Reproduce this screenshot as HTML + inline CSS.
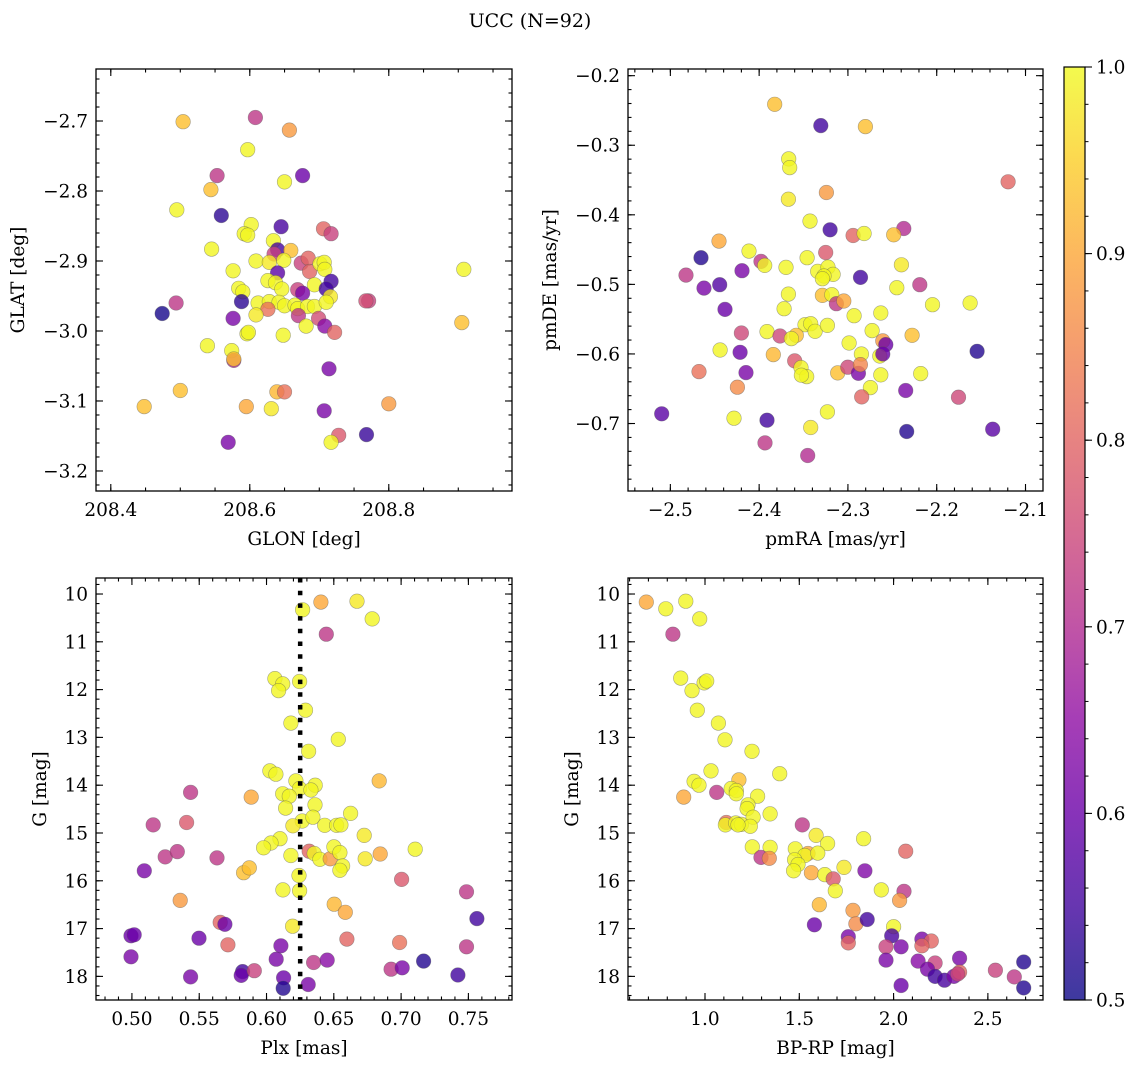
<!DOCTYPE html>
<html><head><meta charset="utf-8">
<style>
html,body{margin:0;padding:0;background:#fff;}
svg{display:block;font-family:"DejaVu Serif","Liberation Serif",serif;}
</style></head>
<body>
<svg id="fig" width="1136" height="1067" viewBox="0 0 1136 1067" xmlns="http://www.w3.org/2000/svg">
<text x="530" y="27" text-anchor="middle" font-size="19">UCC (N=92)</text>
</svg>
<script>
// ---------- Panel 1: GLON / GLAT ----------
const glonVals=[208.504,208.608,208.657,208.597,208.553,208.676,208.650,208.544,208.495,208.559,208.645,208.602,208.592,208.597,208.706,208.717,208.545,208.634,208.640,208.635,208.659,208.609,208.628,208.649,208.674,208.684,208.686,208.701,208.707,208.708,208.576,208.640,208.626,208.637,208.646,208.693,208.717,208.710,208.584,208.590,208.669,208.676,208.716,208.588,208.494,208.474,208.612,208.628,208.642,208.650,208.665,208.669,208.683,208.693,208.710,208.626,208.771,208.767,208.908,208.609,208.576,208.670,208.699,208.708,208.722,208.681,208.596,208.598,208.648,208.539,208.574,208.577,208.577,208.714,208.500,208.639,208.650,208.448,208.595,208.631,208.707,208.800,208.905,208.728,208.717,208.768,208.569];
const glatVals=[-2.701,-2.695,-2.713,-2.741,-2.778,-2.778,-2.787,-2.798,-2.827,-2.835,-2.851,-2.848,-2.861,-2.863,-2.854,-2.861,-2.883,-2.871,-2.884,-2.890,-2.885,-2.900,-2.902,-2.899,-2.903,-2.896,-2.915,-2.904,-2.902,-2.912,-2.914,-2.917,-2.928,-2.931,-2.940,-2.934,-2.929,-2.940,-2.939,-2.944,-2.941,-2.946,-2.951,-2.958,-2.960,-2.975,-2.960,-2.958,-2.959,-2.964,-2.963,-2.968,-2.965,-2.965,-2.959,-2.969,-2.957,-2.957,-2.912,-2.977,-2.982,-2.978,-2.982,-2.993,-3.002,-2.993,-3.004,-3.002,-3.006,-3.021,-3.028,-3.042,-3.040,-3.054,-3.085,-3.087,-3.087,-3.108,-3.108,-3.111,-3.114,-3.104,-2.988,-3.149,-3.159,-3.148,-3.159];
const p1Prob=[0.93,0.72,0.88,0.995,0.72,0.6,0.995,0.93,0.995,0.53,0.56,0.995,0.995,0.995,0.8,0.74,0.995,0.995,0.56,0.74,0.93,0.995,0.98,0.995,0.74,0.8,0.8,0.995,0.995,0.995,0.995,0.58,0.995,0.995,0.995,0.995,0.55,0.55,0.995,0.995,0.74,0.62,0.98,0.53,0.72,0.51,0.995,0.995,0.995,0.995,0.995,0.995,0.995,0.995,0.995,0.82,0.74,0.76,0.995,0.98,0.62,0.72,0.76,0.64,0.8,0.995,0.995,0.995,0.995,0.995,0.995,0.7,0.93,0.62,0.93,0.92,0.82,0.93,0.9,0.98,0.62,0.88,0.93,0.78,0.995,0.54,0.62];
const p1XTicks=[208.4,208.6,208.8];
const p1XTickLabels=["208.4","208.6","208.8"];
const p1YTicks=[-2.7,-2.8,-2.9,-3.0,-3.1,-3.2];
const p1YTickLabels=["\u22122.7","\u22122.8","\u22122.9","\u22123.0","\u22123.1","\u22123.2"];

// ---------- Panel 2: pmRA / pmDE ----------
const pmraVals=[-2.3825,-2.3306,-2.2803,-2.3667,-2.3656,-2.1196,-2.3243,-2.3671,-2.3427,-2.3201,-2.2371,-2.2942,-2.2818,-2.2484,-2.4452,-2.4114,-2.3250,-2.4655,-2.3460,-2.3979,-2.3937,-2.3697,-2.2398,-2.4824,-2.4193,-2.3340,-2.3224,-2.3167,-2.3269,-2.3288,-2.2858,-2.4621,-2.4444,-2.2450,-2.2191,-2.3671,-2.3288,-2.3182,-2.3130,-2.3047,-2.2048,-2.1624,-2.4384,-2.3719,-2.2931,-2.2630,-2.3483,-2.3419,-2.3370,-2.3231,-2.3911,-2.3765,-2.3581,-2.3637,-2.2728,-2.4200,-2.2277,-2.2607,-2.2574,-2.2987,-2.1545,-2.4440,-2.4215,-2.3840,-2.2848,-2.2641,-2.2607,-2.3600,-2.3528,-2.3464,-2.3524,-2.4677,-2.4148,-2.3115,-2.3002,-2.2882,-2.2860,-2.2630,-2.2180,-2.4245,-2.2747,-2.2349,-2.2845,-2.1755,-2.5098,-2.3231,-2.4283,-2.3911,-2.3419,-2.2338,-2.1369,-2.3934,-2.3453];
const pmdeVals=[-0.2411,-0.2718,-0.2732,-0.3196,-0.3321,-0.3526,-0.3679,-0.3775,-0.4091,-0.4215,-0.4196,-0.4297,-0.4268,-0.4287,-0.4378,-0.4522,-0.4541,-0.4617,-0.4617,-0.4670,-0.4727,-0.4756,-0.4718,-0.4866,-0.4804,-0.4813,-0.4751,-0.4856,-0.4880,-0.4919,-0.4900,-0.5053,-0.5005,-0.5048,-0.5005,-0.5139,-0.5158,-0.5148,-0.5278,-0.5239,-0.5292,-0.5268,-0.5359,-0.5349,-0.5450,-0.5411,-0.5579,-0.5565,-0.5675,-0.5589,-0.5679,-0.5742,-0.5732,-0.5780,-0.5665,-0.5699,-0.5732,-0.5813,-0.5866,-0.5842,-0.5962,-0.5943,-0.5976,-0.6010,-0.6000,-0.6029,-0.6000,-0.6100,-0.6196,-0.6325,-0.6306,-0.6254,-0.6268,-0.6273,-0.6191,-0.6278,-0.6153,-0.6301,-0.6282,-0.6478,-0.6483,-0.6526,-0.6617,-0.6622,-0.6861,-0.6833,-0.6923,-0.6952,-0.7057,-0.7115,-0.7081,-0.7278,-0.7459];
const p2Prob=[0.93,0.55,0.93,0.995,0.995,0.8,0.88,0.98,0.995,0.55,0.7,0.8,0.995,0.93,0.9,0.995,0.78,0.52,0.995,0.72,0.995,0.995,0.98,0.72,0.62,0.995,0.995,0.995,0.995,0.995,0.55,0.62,0.57,0.995,0.72,0.995,0.93,0.995,0.72,0.9,0.995,0.995,0.6,0.995,0.995,0.995,0.995,0.995,0.995,0.995,0.995,0.75,0.93,0.995,0.995,0.75,0.93,0.88,0.6,0.995,0.52,0.995,0.6,0.92,0.995,0.995,0.6,0.78,0.995,0.995,0.995,0.82,0.62,0.93,0.75,0.62,0.85,0.995,0.995,0.86,0.995,0.62,0.8,0.75,0.58,0.995,0.995,0.55,0.98,0.52,0.58,0.72,0.7];
const p2XTicks=[-2.5,-2.4,-2.3,-2.2,-2.1];
const p2XTickLabels=["\u22122.5","\u22122.4","\u22122.3","\u22122.2","\u22122.1"];
const p2YTicks=[-0.2,-0.3,-0.4,-0.5,-0.6,-0.7];
const p2YTickLabels=["\u22120.2","\u22120.3","\u22120.4","\u22120.5","\u22120.6","\u22120.7"];

// ---------- Panel 3: Plx / G ----------
const plxVals=[0.6268,0.6404,0.6672,0.6785,0.6444,0.6062,0.6120,0.6090,0.6246,0.6290,0.6181,0.6533,0.6313,0.6025,0.6070,0.6837,0.6218,0.6246,0.6362,0.6330,0.5436,0.5886,0.6120,0.6169,0.6142,0.6360,0.6625,0.5158,0.5406,0.6265,0.6345,0.6196,0.6432,0.6521,0.6553,0.6726,0.6100,0.6033,0.5978,0.6181,0.6317,0.6354,0.6397,0.6473,0.6501,0.6545,0.6565,0.6545,0.6733,0.6845,0.7105,0.5247,0.5337,0.5632,0.5092,0.5830,0.5872,0.7004,0.6241,0.6122,0.6246,0.7486,0.5359,0.6503,0.6585,0.7563,0.5656,0.5691,0.6194,0.4993,0.5017,0.5498,0.5713,0.6107,0.6597,0.6989,0.7486,0.4993,0.6072,0.6350,0.6451,0.7167,0.6926,0.7008,0.5436,0.5822,0.5812,0.5909,0.7422,0.6127,0.6124,0.6310];
const gPlxVals=[10.33,10.17,10.15,10.52,10.84,11.77,11.88,12.02,11.83,12.43,12.70,13.04,13.29,13.70,13.77,13.91,13.91,14.07,14.00,14.10,14.15,14.25,14.18,14.23,14.48,14.41,14.59,14.83,14.78,14.75,14.67,14.85,14.84,14.84,14.83,15.05,15.12,15.21,15.31,15.47,15.38,15.43,15.55,15.54,15.29,15.41,15.69,15.78,15.54,15.44,15.34,15.50,15.39,15.52,15.79,15.83,15.73,15.97,15.89,16.19,16.21,16.23,16.41,16.49,16.66,16.79,16.87,16.91,16.95,17.15,17.13,17.20,17.34,17.36,17.22,17.29,17.38,17.59,17.64,17.71,17.66,17.68,17.85,17.82,18.01,17.90,17.98,17.88,17.97,18.03,18.25,18.17];
const p3Prob=[0.995,0.9,0.98,0.995,0.72,0.995,0.995,0.995,0.995,0.995,0.995,0.995,0.995,0.995,0.995,0.92,0.995,0.995,0.995,0.995,0.72,0.9,0.995,0.995,0.995,0.995,0.995,0.72,0.78,0.995,0.995,0.98,0.995,0.995,0.995,0.98,0.995,0.995,0.995,0.995,0.8,0.995,0.995,0.88,0.995,0.995,0.995,0.995,0.98,0.9,0.995,0.72,0.72,0.72,0.62,0.93,0.93,0.78,0.995,0.995,0.995,0.72,0.88,0.92,0.9,0.55,0.8,0.6,0.98,0.6,0.6,0.6,0.8,0.62,0.8,0.82,0.72,0.62,0.62,0.72,0.64,0.52,0.72,0.62,0.62,0.55,0.6,0.74,0.55,0.6,0.52,0.62];
const plxRef=[0.625];
const p3XTicks=[0.50,0.55,0.60,0.65,0.70,0.75];
const p3XTickLabels=["0.50","0.55","0.60","0.65","0.70","0.75"];
const p3YTicks=[10,11,12,13,14,15,16,17,18];
const p3YTickLabels=["10","11","12","13","14","15","16","17","18"];

// ---------- Panel 4: BP-RP / G ----------
const bprpVals=[0.689,0.792,0.898,0.972,0.830,0.871,0.931,0.995,1.009,0.959,1.071,1.106,1.249,1.396,1.032,0.942,0.968,1.180,1.139,1.166,1.166,0.887,1.062,1.279,1.228,1.223,1.255,1.345,1.113,1.108,1.163,1.193,1.240,1.175,1.516,1.589,1.650,1.841,1.251,1.345,1.297,1.341,1.479,1.546,1.529,1.598,1.475,1.493,1.470,2.064,1.564,1.635,1.680,1.737,1.848,1.691,1.935,2.055,2.032,1.606,1.785,1.800,1.860,1.580,2.000,1.760,1.760,1.990,2.040,1.960,1.960,2.150,2.200,2.150,2.130,2.220,2.180,2.220,2.270,2.320,2.350,2.350,2.340,2.540,2.640,2.690,2.690,2.040];
const gBprpVals=[10.17,10.31,10.15,10.52,10.84,11.76,12.02,11.86,11.82,12.43,12.70,13.05,13.29,13.76,13.70,13.92,14.00,13.89,14.07,14.11,14.18,14.25,14.15,14.23,14.41,14.49,14.67,14.60,14.78,14.83,14.79,14.82,14.86,14.83,14.83,15.05,15.22,15.12,15.29,15.30,15.51,15.53,15.33,15.43,15.47,15.42,15.56,15.66,15.79,15.38,15.83,15.87,15.96,15.72,15.79,16.21,16.19,16.22,16.41,16.50,16.62,16.90,16.81,16.92,16.96,17.17,17.30,17.15,17.38,17.38,17.66,17.22,17.26,17.36,17.68,17.72,17.85,18.00,18.08,18.00,17.62,17.91,17.95,17.87,18.01,17.70,18.24,18.19];
const p4Prob=[0.9,0.995,0.995,0.995,0.72,0.995,0.995,0.995,0.995,0.995,0.995,0.995,0.995,0.995,0.995,0.995,0.995,0.93,0.995,0.995,0.995,0.9,0.72,0.995,0.995,0.995,0.995,0.995,0.82,0.995,0.995,0.995,0.995,0.995,0.72,0.98,0.995,0.995,0.995,0.995,0.72,0.86,0.995,0.9,0.995,0.995,0.995,0.995,0.995,0.8,0.9,0.995,0.78,0.98,0.63,0.995,0.995,0.72,0.88,0.92,0.88,0.86,0.55,0.6,0.995,0.62,0.8,0.56,0.62,0.74,0.62,0.62,0.8,0.8,0.64,0.74,0.62,0.55,0.56,0.62,0.62,0.8,0.74,0.74,0.72,0.52,0.52,0.6];
const p4XTicks=[1.0,1.5,2.0,2.5];
const p4XTickLabels=["1.0","1.5","2.0","2.5"];

// ---------- Colorbar ----------
const cbTicks=[0.5,0.6,0.7,0.8,0.9,1.0];
const cbTickLabels=["0.5","0.6","0.7","0.8","0.9","1.0"];

const NS="http://www.w3.org/2000/svg";
const svg=document.getElementById('fig');
const FS=18.5;
const plasma=[[13,8,135],[65,4,157],[106,0,168],[143,13,164],[177,42,144],[204,71,120],[225,100,98],[242,132,75],[252,166,54],[252,206,37],[240,249,33]];
function cmap(v){
  let t=(v-0.5)/0.5; t=Math.max(0,Math.min(1,t));
  const f=t*10, i=Math.min(9,Math.floor(f)), r=f-i;
  const a=plasma[i], b=plasma[i+1];
  return 'rgb('+[0,1,2].map(k=>Math.round(a[k]+(b[k]-a[k])*r)).join(',')+')';
}
function mk(tag,attrs,parent){
  const e=document.createElementNS(NS,tag);
  for(const k in attrs) e.setAttribute(k,attrs[k]);
  (parent||svg).appendChild(e); return e;
}
function linScale(d0,d1,r0,r1){return v=>r0+(v-d0)/(d1-d0)*(r1-r0);}

function drawPanel(P){
  const g=mk('g',{});
  
  
  const sx=linScale(P.xmin,P.xmax,P.L,P.R);
  const sy=linScale(P.ymin,P.ymax,P.B,P.T);
  const pg=mk('g',{},g);
  
  
  for(let i=0;i<P.xs.length;i++){
    const c=mk('circle',{cx:sx(P.xs[i]).toFixed(1),cy:sy(P.ys[i]).toFixed(1),r:7.3,fill:cmap(P.cs[i]),'fill-opacity':0.8,stroke:'#555','stroke-opacity':0.5,'stroke-width':0.6},pg);
    
    
  }
  if(P.vline){
    for(const v of P.vline){
      const l=mk('line',{x1:sx(v),x2:sx(v),y1:P.T,y2:P.B,stroke:'#000','stroke-width':4.5,'stroke-dasharray':'4.5 8.2'},g);
      
      
    }
  }
  const fr=mk('rect',{x:P.L,y:P.T,width:P.R-P.L,height:P.B-P.T,fill:'none',stroke:'#000','stroke-width':1.3},g);
  
  
  const tk=mk('g',{stroke:'#000','stroke-width':1.1},g);
  
  
  const minorX=[], minorY=[];
  for(let v=Math.ceil(P.xmin/P.xminor-1e-6)*P.xminor; v<=P.xmax+1e-9; v+=P.xminor) minorX.push(v);
  const ylo=Math.min(P.ymin,P.ymax), yhi=Math.max(P.ymin,P.ymax);
  for(let v=Math.ceil(ylo/P.yminor-1e-6)*P.yminor; v<=yhi+1e-9; v+=P.yminor) minorY.push(v);
  minorX.forEach(v=>{const x=sx(v);mk('line',{x1:x,x2:x,y1:P.B,y2:P.B-3.5},tk);mk('line',{x1:x,x2:x,y1:P.T,y2:P.T+3.5},tk);});
  minorY.forEach(v=>{const y=sy(v);mk('line',{x1:P.L,x2:P.L+3.5,y1:y,y2:y},tk);mk('line',{x1:P.R,x2:P.R-3.5,y1:y,y2:y},tk);});
  P.xt.forEach(v=>{const x=sx(v);mk('line',{x1:x,x2:x,y1:P.B,y2:P.B-7},tk);mk('line',{x1:x,x2:x,y1:P.T,y2:P.T+7},tk);});
  P.yt.forEach(v=>{const y=sy(v);mk('line',{x1:P.L,x2:P.L+7,y1:y,y2:y},tk);mk('line',{x1:P.R,x2:P.R-7,y1:y,y2:y},tk);});
  P.xt.forEach((v,i)=>{
    const t=mk('text',{x:sx(v),y:P.B+25,'text-anchor':'middle','font-size':FS},g);
    t.textContent=P.xtl[i];
    
    
  });
  P.yt.forEach((v,i)=>{
    const t=mk('text',{x:P.L-8,y:sy(v)+6.5,'text-anchor':'end','font-size':FS},g);
    t.textContent=P.ytl[i];
    
    
  });
  const xl=mk('text',{x:(P.L+P.R)/2,y:P.B+54,'text-anchor':'middle','font-size':FS},g);
  xl.textContent=P.xlabel;
  
  
  const yl=mk('text',{x:0,y:0,'text-anchor':'middle','font-size':FS,transform:'translate('+P.ylx+','+((P.T+P.B)/2)+') rotate(-90)'},g);
  yl.textContent=P.ylabel;
  
  
}

drawPanel({name:'glon-glat-panel',L:96,R:512,T:69,B:491,xmin:208.3787,xmax:208.9773,ymin:-3.2286,ymax:-2.6257,
  xs:glonVals,ys:glatVals,cs:p1Prob,xt:p1XTicks,xtl:p1XTickLabels,yt:p1YTicks,ytl:p1YTickLabels,xminor:0.05,yminor:0.02,
  xlabel:'GLON [deg]',ylabel:'GLAT [deg]',ylx:24});
drawPanel({name:'pm-panel',L:628,R:1043,T:69,B:491,xmin:-2.5477,xmax:-2.0803,ymin:-0.797,ymax:-0.1904,
  xs:pmraVals,ys:pmdeVals,cs:p2Prob,xt:p2XTicks,xtl:p2XTickLabels,yt:p2YTicks,ytl:p2YTickLabels,xminor:0.02,yminor:0.02,
  xlabel:'pmRA [mas/yr]',ylabel:'pmDE [mas/yr]',ylx:556});
drawPanel({name:'plx-g-panel',L:96,R:512,T:578,B:1000,xmin:0.4733,xmax:0.7824,ymin:18.494,ymax:9.665,
  xs:plxVals,ys:gPlxVals,cs:p3Prob,xt:p3XTicks,xtl:p3XTickLabels,yt:p3YTicks,ytl:p3YTickLabels,xminor:0.01,yminor:0.2,
  xlabel:'Plx [mas]',ylabel:'G [mag]',ylx:46,vline:plxRef});
drawPanel({name:'cmd-panel',L:628,R:1043,T:578,B:1000,xmin:0.5917,xmax:2.7923,ymin:18.494,ymax:9.665,
  xs:bprpVals,ys:gBprpVals,cs:p4Prob,xt:p4XTicks,xtl:p4XTickLabels,yt:p3YTicks,ytl:p3YTickLabels,xminor:0.1,yminor:0.2,
  xlabel:'BP-RP [mag]',ylabel:'G [mag]',ylx:578});

(function(){
  const L=1064,R=1085,T=67,B=1000;
  const g=mk('g',{});
  
  
  const defs=mk('defs',{},g);
  const lg=mk('linearGradient',{id:'cbg',x1:0,y1:1,x2:0,y2:0},defs);
  for(let i=0;i<=20;i++){const v=0.5+i*0.025;mk('stop',{offset:(i/20),'stop-color':cmap(v)},lg);}
  mk('rect',{x:L,y:T,width:R-L,height:B-T,fill:'url(#cbg)','fill-opacity':0.8},g);
  const fr=mk('rect',{x:L,y:T,width:R-L,height:B-T,fill:'none',stroke:'#000','stroke-width':1.2},g);
  
  
  const sy=linScale(0.5,1.0,B,T);
  for(let v=0.5;v<=1.0001;v+=0.02){const y=sy(v);mk('line',{x1:R,x2:R+3.5,y1:y,y2:y,stroke:'#000','stroke-width':1},g);}
  cbTicks.forEach((v,i)=>{
    const y=sy(v);
    mk('line',{x1:R,x2:R+7,y1:y,y2:y,stroke:'#000','stroke-width':1.1},g);
    const t=mk('text',{x:R+11,y:y+6.5,'font-size':FS},g);
    t.textContent=cbTickLabels[i];
    
    
  });
})();
</script>
</body></html>
